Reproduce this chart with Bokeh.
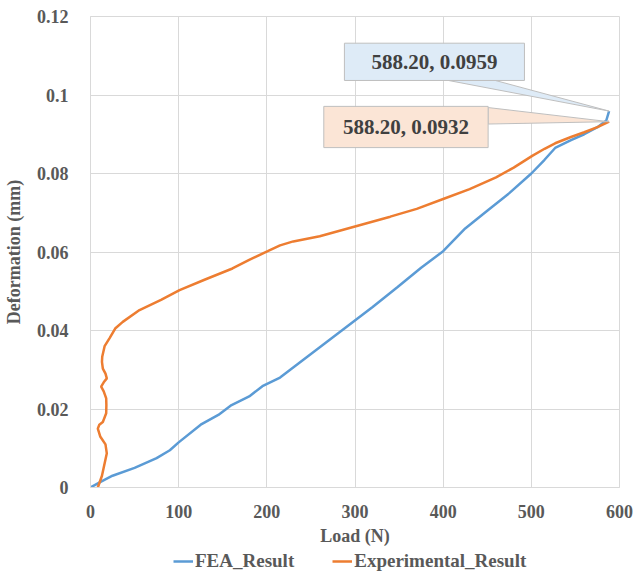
from bokeh.plotting import figure
from bokeh.models import Range1d, FixedTicker, Legend, LegendItem
from bokeh.layouts import column
from bokeh.embed import file_html
from bokeh.resources import INLINE

# ---- data ----
fea_load = [0, 12, 25, 50, 75, 90, 100, 125, 145, 160, 180, 195, 215, 250, 285, 320,
            348, 375, 400, 425, 450, 475, 500, 515, 527, 545, 560, 575, 585, 588.2]
fea_def = [0, 0.0015, 0.003, 0.005, 0.0075, 0.0095, 0.0115, 0.016, 0.0185, 0.021, 0.0232,
           0.0258, 0.028, 0.034, 0.040, 0.046, 0.051, 0.056, 0.0602, 0.066, 0.0705,
           0.075, 0.080, 0.0835, 0.0865, 0.0885, 0.0900, 0.0918, 0.0935, 0.0959]

exp_load = [8.3, 13, 18.5, 17, 11, 8.3, 10, 14, 17.8, 18, 17.8, 15, 12.1, 15, 18.5, 17, 14,
            13, 13.3, 16, 21.5, 28, 36.6, 55.6, 80, 101, 130, 161, 180, 201, 215, 230, 260,
            300, 340, 370, 400, 430, 460, 480, 501, 515, 527, 545, 560, 575, 588.2]
exp_def = [0, 0.003, 0.0087, 0.011, 0.013, 0.015, 0.016, 0.0167, 0.0189, 0.021, 0.0227,
           0.0245, 0.0257, 0.0268, 0.0278, 0.029, 0.0303, 0.032, 0.0333, 0.036, 0.038,
           0.0405, 0.0422, 0.0452, 0.0478, 0.0503, 0.053, 0.0558, 0.058, 0.0602, 0.0617,
           0.0627, 0.064, 0.0665, 0.069, 0.071, 0.0735, 0.076, 0.079, 0.0815, 0.0845,
           0.0863, 0.0877, 0.0893, 0.0905, 0.0918, 0.0932]

series_names = ["FEA_Result", "Experimental_Result"]
x_ticks = [0, 100, 200, 300, 400, 500, 600]
y_ticks = [0, 0.02, 0.04, 0.06, 0.08, 0.10, 0.12]
y_tick_labels = ["0", "0.02", "0.04", "0.06", "0.08", "0.1", "0.12"]

BLUE = "#5B9BD5"
ORANGE = "#ED7D31"
GRID = "#D9D9D9"
TXT = "#595959"
FONT = "Liberation Serif"

p = figure(frame_width=529, frame_height=471, output_backend="svg", toolbar_location=None,
           x_range=Range1d(0, 600), y_range=Range1d(0, 0.12),
           min_border_left=83, min_border_right=16, min_border_top=16,
           min_border_bottom=0)
p.outline_line_color = GRID
p.background_fill_color = "white"
p.border_fill_color = "white"

# axes
for ax in (p.xaxis[0], p.yaxis[0]):
    ax.axis_line_color = GRID
    ax.major_tick_line_color = None
    ax.minor_tick_line_color = None
    ax.major_tick_out = 0
    ax.major_tick_in = 0
    ax.minor_tick_out = 0
    ax.minor_tick_in = 0
    ax.major_label_text_font = FONT
    ax.major_label_text_font_style = "bold"
    ax.major_label_text_font_size = "18px"
    ax.major_label_text_color = TXT
    ax.axis_label_text_font = FONT
    ax.axis_label_text_font_style = "bold"
    ax.axis_label_text_font_size = "18px"
    ax.axis_label_text_color = TXT

p.xaxis.ticker = FixedTicker(ticks=x_ticks)
p.yaxis.ticker = FixedTicker(ticks=y_ticks)
p.yaxis.major_label_overrides = {t: l for t, l in zip(y_ticks, y_tick_labels)}
p.xaxis.axis_label = "Load (N)"
p.yaxis.axis_label = "Deformation (mm)"
p.xaxis.major_label_standoff = 17
p.yaxis.major_label_standoff = 22
p.xaxis.axis_label_standoff = 5
p.yaxis.axis_label_standoff = 10

p.xgrid.ticker = FixedTicker(ticks=x_ticks)
p.ygrid.ticker = FixedTicker(ticks=y_ticks)
p.grid.grid_line_color = GRID
p.grid.grid_line_width = 1

r1 = p.line(fea_load, fea_def, line_color=BLUE, line_width=2.5)
r2 = p.line(exp_load, exp_def, line_color=ORANGE, line_width=2.5)

# callouts (offsets relative to annotated end points)
def callout(px, py, box_dx, box_dy, ptr, fill, label):
    bx0, bx1 = px + box_dx[0], px + box_dx[1]
    by0, by1 = py + box_dy[0], py + box_dy[1]
    xs = [px + ptr[0][0], px + ptr[1][0], px]
    ys = [py + ptr[0][1], py + ptr[1][1], py]
    p.patch(xs, ys, fill_color=fill, line_color="#BFBFBF", line_width=1)
    p.quad(left=bx0, right=bx1, bottom=by0, top=by1, fill_color=fill,
           line_color="#BFBFBF", line_width=1)
    p.text(x=[(bx0 + bx1) / 2], y=[(by0 + by1) / 2], text=[label],
           text_align="center", text_baseline="middle",
           text_font={"value": FONT}, text_font_style="bold",
           text_font_size="21px", text_color="#404040")

fx, fy = fea_load[-1], fea_def[-1]
ex, ey = exp_load[-1], exp_def[-1]
callout(fx, fy, (-300.2, -96.0), (0.0078, 0.0173),
        [(-182.2, 0.0078), (-129.0, 0.0078)], "#DEEBF7",
        f"{fx:.2f}, {fy:.4f}")
callout(ex, ey, (-323.6, -137.2), (-0.0066, 0.0039),
        [(-137.2, 0.0036), (-137.2, -0.0006)], "#FBE5D6",
        f"{ex:.2f}, {ey:.4f}")

# ---- legend strip (separate small figure below the chart) ----
pl = figure(width=628, height=28, output_backend="svg", toolbar_location=None,
            x_range=Range1d(0, 600), y_range=Range1d(0, 0.12),
            min_border=0)
pl.axis.visible = False
pl.grid.visible = False
pl.outline_line_color = None
pl.background_fill_color = "white"
pl.border_fill_color = "white"
l1 = pl.line(fea_load, fea_def, line_color=BLUE, line_width=2.5, visible=False)
l2 = pl.line(exp_load, exp_def, line_color=ORANGE, line_width=2.5, visible=False)

legend = Legend(items=[LegendItem(label=series_names[0], renderers=[l1]),
                       LegendItem(label=series_names[1], renderers=[l2])],
                orientation="horizontal", location=(83, 4), click_policy="none",
                label_text_font=FONT, label_text_font_style="bold",
                label_text_font_size="19px", label_text_color=TXT,
                label_height=18, glyph_width=20, glyph_height=18,
                label_standoff=2, spacing=38,
                border_line_color=None, background_fill_alpha=0,
                padding=0, margin=0)
pl.add_layout(legend, "center")

layout = column(p, pl, spacing=0)
open("out.html", "w").write(file_html(layout, INLINE))
